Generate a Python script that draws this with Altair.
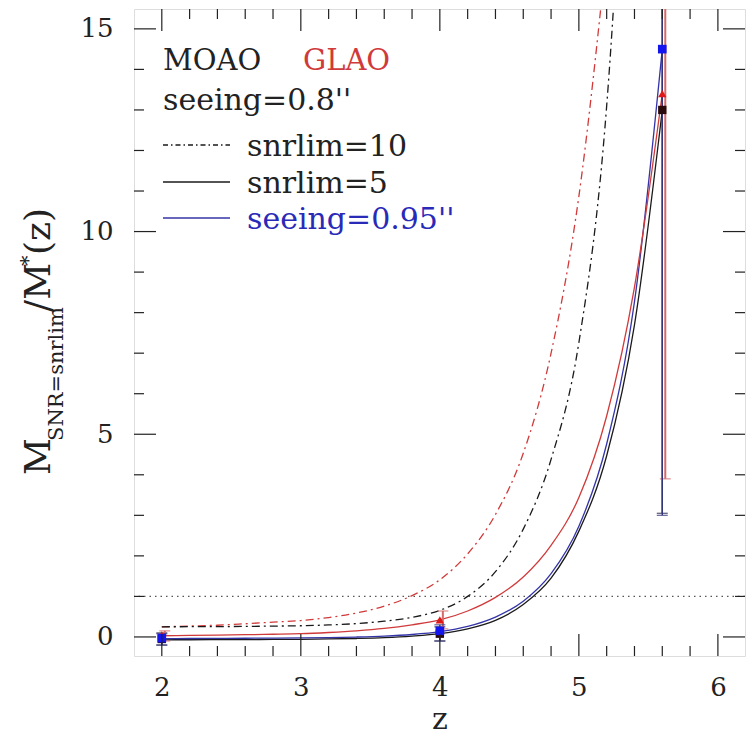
import altair as alt
import pandas as pd

FONT = "DejaVu Serif"
TXT = "#222222"
RED = "#d03a3a"
BLUE = "#3434a8"
BLACK = "#1a1a1a"

# ---------------- data ----------------
# GLAO, seeing 0.8", snrlim=10 (red dash-dot)
glao10_z = [2.0, 2.2, 2.4, 2.6, 2.8, 3.0, 3.2, 3.4, 3.6, 3.8, 4.0, 4.2, 4.4, 4.6, 4.8, 5.0, 5.2]
glao10_v = [0.25, 0.269, 0.289, 0.325, 0.365, 0.405, 0.479, 0.59, 0.76, 1.02, 1.41, 2.05, 3.02,
            4.53, 7.0, 10.87, 16.9]
# MOAO, seeing 0.8", snrlim=10 (black dash-dot)
moao10_z = [2.0, 2.2, 2.4, 2.6, 2.8, 3.0, 3.2, 3.4, 3.6, 3.8, 4.0, 4.2, 4.4, 4.6, 4.8, 5.0, 5.2, 5.4]
moao10_v = [0.25, 0.253, 0.255, 0.26, 0.268, 0.276, 0.296, 0.33, 0.388, 0.485, 0.655, 1.0, 1.61,
            2.66, 4.38, 7.26, 13.1, 25.0]
# snrlim=5 curves (solid)
solid_z = [2.0, 2.2, 2.4, 2.6, 2.8, 3.0, 3.2, 3.4, 3.6, 3.8, 4.0, 4.2, 4.4, 4.6, 4.8, 5.0, 5.2, 5.4, 5.6]
glao5_v = [0.03, 0.037, 0.045, 0.055, 0.066, 0.08, 0.11, 0.15, 0.21, 0.30, 0.42, 0.64, 0.975,
           1.48, 2.26, 3.44, 5.45, 8.63, 13.4]
moao5_v = [-0.07, -0.069, -0.067, -0.065, -0.062, -0.058, -0.05, -0.038, -0.018, 0.019, 0.08,
           0.20, 0.41, 0.80, 1.45, 2.61, 4.47, 7.70, 13.0]
see095_v = [-0.04, -0.038, -0.035, -0.032, -0.028, -0.023, -0.015, -0.002, 0.02, 0.06, 0.13,
            0.26, 0.49, 0.88, 1.56, 2.73, 4.76, 8.27, 14.5]

# measured points with error bars
pt_z = [2.0, 4.0, 5.6]
moao_pt = [-0.05, 0.08, 13.0]
moao_lo = [-0.20, -0.10, 3.05]
moao_hi = [0.10, 0.25, 25.0]
glao_pt = [0.05, 0.42, 13.4]
glao_lo = [-0.10, 0.20, 3.9]
glao_hi = [0.15, 0.64, 25.0]
see_pt = [-0.03, 0.15, 14.5]
see_lo = [-0.20, -0.10, 3.0]
see_hi = [0.08, 0.30, 25.0]

ref_level = [1.0]

# axis ticks
x_major = [2, 3, 4, 5, 6]
x_minor = [2.2, 2.4, 2.6, 2.8, 3.2, 3.4, 3.6, 3.8, 4.2, 4.4, 4.6, 4.8,
           5.2, 5.4, 5.6, 5.8]
y_major = [0, 5, 10, 15]
y_minor = [1, 2, 3, 4, 6, 7, 8, 9, 11, 12, 13, 14]

# ---------------- layout ----------------
W, H = 611, 647
X_DOM = [1.8, 6.195]
Y_DOM = [-0.47, 15.49]
xs = alt.Scale(domain=X_DOM, nice=False, zero=False)
ys = alt.Scale(domain=Y_DOM, nice=False, zero=False)

xaxis = alt.Axis(values=x_major, ticks=False, tickSize=0, domain=False, grid=False,
                 labelFont=FONT, labelFontSize=26, labelColor=TXT, labelPadding=18,
                 labelFlush=False, labelOverlap=False,
                 titleFont=FONT, titleFontSize=30, titleFontWeight="normal",
                 titleColor=TXT, titlePadding=4)
yaxis = alt.Axis(values=y_major, ticks=False, tickSize=0, domain=False, grid=False,
                 labelFont=FONT, labelFontSize=26, labelColor=TXT, labelPadding=21,
                 labelFlush=False, labelOverlap=False)


def X(field):
    return alt.X(field, type="quantitative", scale=xs, axis=xaxis, title="z")


def Y(field):
    return alt.Y(field, type="quantitative", scale=ys, axis=yaxis, title="")


def curve(z, v, color, dash=None, width=1.3):
    df = pd.DataFrame({"z": z, "v": v})
    kw = dict(color=color, strokeWidth=width, clip=True, interpolate="monotone")
    if dash is not None:
        kw["strokeDash"] = dash
    return alt.Chart(df).mark_line(**kw).encode(x=X("z"), y=Y("v"))


DASHDOT = [8, 4, 2, 4]

layers = []

# dotted reference line at 1
layers.append(
    alt.Chart(pd.DataFrame({"v": ref_level})).mark_rule(
        color="#555555", strokeWidth=1.3, strokeDash=[1.5, 4]
    ).encode(y=Y("v"))
)

# curves
layers.append(curve(glao10_z, glao10_v, RED, DASHDOT, 1.3))
layers.append(curve(moao10_z, moao10_v, BLACK, DASHDOT, 1.3))
layers.append(curve(solid_z, moao5_v, BLACK, None, 1.3))
layers.append(curve(solid_z, see095_v, BLUE, None, 1.3))
layers.append(curve(solid_z, glao5_v, RED, None, 1.3))


def errbars(pt, lo, hi, color, width, dx):
    df = pd.DataFrame({"z": pt_z, "v": pt, "lo": lo, "hi": hi})
    base = alt.Chart(df)
    bar = base.mark_rule(color=color, strokeWidth=width, clip=True, xOffset=dx).encode(
        x=X("z"), y=Y("lo"), y2="hi")
    cap_lo = base.mark_tick(color=color, orient="horizontal", size=11, thickness=1.3,
                            clip=True, xOffset=dx).encode(x=X("z"), y=Y("lo"))
    cap_hi = base.mark_tick(color=color, orient="horizontal", size=11, thickness=1.3,
                            clip=True, xOffset=dx).encode(x=X("z"), y=Y("hi"))
    return [bar, cap_lo, cap_hi]


layers += errbars(moao_pt, moao_lo, moao_hi, "#222244", 1.4, 0)
layers += errbars(glao_pt, glao_lo, glao_hi, "#d46a6a", 2.0, 3)
layers += errbars(see_pt, see_lo, see_hi, "#35357a", 1.4, 0)

# markers
layers.append(alt.Chart(pd.DataFrame({"z": pt_z, "v": moao_pt})).mark_point(
    shape="square", filled=True, size=70, color="#2a0a0a", opacity=1).encode(x=X("z"), y=Y("v")))
layers.append(alt.Chart(pd.DataFrame({"z": pt_z, "v": glao_pt})).mark_point(
    shape="triangle-up", filled=True, size=70, color="#e01818", opacity=1).encode(x=X("z"), y=Y("v")))
layers.append(alt.Chart(pd.DataFrame({"z": pt_z, "v": see_pt})).mark_point(
    shape="square", filled=True, size=75, color="#1414ee", opacity=1).encode(x=X("z"), y=Y("v")))

# inward ticks on all four sides
MAJ, MIN = 22, 10
TICKC = "#222222"
xmaj = pd.DataFrame({"t": x_major})
xmin = pd.DataFrame({"t": x_minor})
ymaj = pd.DataFrame({"t": y_major})
ymin = pd.DataFrame({"t": y_minor})
for df, L in ((xmaj, MAJ), (xmin, MIN)):
    layers.append(alt.Chart(df).mark_rule(color=TICKC, strokeWidth=1.2).encode(
        x=X("t"), y=alt.value(H), y2=alt.value(H - L)))
    layers.append(alt.Chart(df).mark_rule(color=TICKC, strokeWidth=1.2).encode(
        x=X("t"), y=alt.value(0), y2=alt.value(L)))
for df, L in ((ymaj, MAJ), (ymin, MIN)):
    layers.append(alt.Chart(df).mark_rule(color=TICKC, strokeWidth=1.2).encode(
        y=Y("t"), x=alt.value(0), x2=alt.value(L)))
    layers.append(alt.Chart(df).mark_rule(color=TICKC, strokeWidth=1.2).encode(
        y=Y("t"), x=alt.value(W), x2=alt.value(W - L)))

# ---------------- legend (text in plot-pixel space) ----------------
anchor = pd.DataFrame({"a": [0]})


def label(text, x, y, color=TXT, size=30, angle=0, baseline="alphabetic"):
    kw = dict(font=FONT, fontSize=size, color=color, align="left", baseline=baseline)
    if angle:
        kw["angle"] = angle
    return alt.Chart(anchor).mark_text(**kw).encode(
        x=alt.value(x), y=alt.value(y), text=alt.value(text))


def sample(x1, x2, y, color, dash=None):
    kw = dict(color=color, strokeWidth=1.3)
    if dash is not None:
        kw["strokeDash"] = dash
    return alt.Chart(anchor).mark_rule(**kw).encode(
        x=alt.value(x1), x2=alt.value(x2), y=alt.value(y))


layers.append(label("MOAO", 29, 61, size=29))
layers.append(label("GLAO", 169, 61, color=RED, size=29))
layers.append(label("seeing=0.8''", 29, 101))
layers.append(sample(29, 96, 136, BLACK, [5, 3, 1.5, 3]))
layers.append(label("snrlim=10", 113, 147))
layers.append(sample(29, 96, 173, BLACK))
layers.append(label("snrlim=5", 113, 184))
layers.append(sample(29, 96, 209, BLUE))
layers.append(label("seeing=0.95''", 113, 220, color="#2a2ab8"))

# y-axis title M_{SNR=snrlim}/M*(z), built from rotated pieces
layers.append(label("M", -84, 466, size=36, angle=270))
layers.append(label("SNR=snrlim", -71, 432, size=21, angle=270))
layers.append(label("/M", -84, 303, size=36, angle=270))
layers.append(label("*", -99, 257, size=21, angle=270))
layers.append(label("(z)", -84, 246, size=36, angle=270))

chart = alt.layer(*layers).properties(
    width=W, height=H,
    autosize=alt.AutoSizeParams(type="none"),
    padding={"left": 134, "top": 9, "right": 6, "bottom": 79},
).configure_view(stroke="#111111", strokeWidth=1.5).configure(background="white")

chart.save("out.html", embed_options={"renderer": "svg", "actions": False})
